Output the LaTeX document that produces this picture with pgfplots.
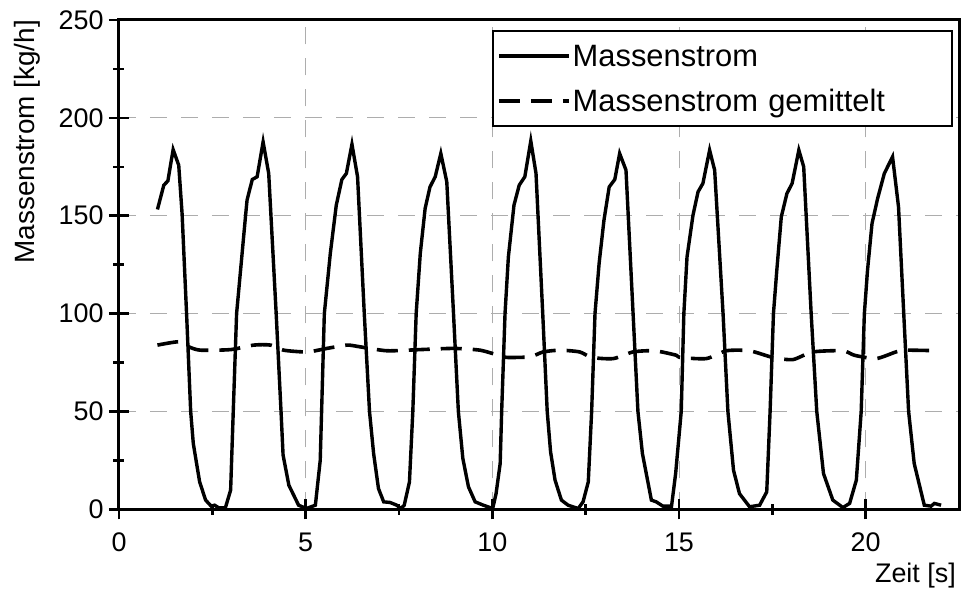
\documentclass[border=0pt]{standalone}
\usepackage{fontspec}
\setmainfont{Liberation Sans}
\usepackage{pgfplots}
\pgfplotsset{compat=1.18}

\pgfplotstableread{
t v
1.03 153.2
1.20 165.6
1.31 167.8
1.45 183.8
1.60 175.8
1.69 151
1.81 100
1.92 50
1.99 33.6
2.16 14
2.32 4.7
2.47 1.6
2.56 2.1
2.67 0.8
2.85 0.8
2.99 9.8
3.06 49.8
3.15 100
3.39 150
3.43 158
3.57 168.5
3.70 169.9
3.86 187.7
4.01 171.6
4.21 100
4.34 50
4.395 27.7
4.55 12.3
4.81 2.1
5.02 0.4
5.26 2.1
5.39 25
5.50 100
5.66 130.7
5.82 155.4
5.97 168.5
6.09 171.6
6.24 186.5
6.39 169.9
6.57 100
6.71 50
6.82 28.5
6.95 10.6
7.09 3.8
7.26 3.5
7.44 2.1
7.55 0.4
7.64 2.1
7.78 14
7.87 50
7.96 100
8.07 130.7
8.20 153.7
8.33 164.7
8.47 169.9
8.62 181.8
8.78 167.3
8.96 100
9.09 50
9.21 26
9.36 11.5
9.54 3.8
9.76 2.1
10.01 0.4
10.10 8
10.21 23.4
10.25 50
10.34 100
10.43 129
10.58 155.4
10.72 165.6
10.87 169.9
11.03 188.2
11.17 171.6
11.35 100
11.47 50
11.56 29.4
11.68 14.9
11.85 4.7
12.03 2.1
12.30 0.4
12.43 3.8
12.57 14
12.66 50
12.75 100
12.86 125.6
12.99 147.7
13.13 164.7
13.28 168.5
13.41 181.8
13.58 173.3
13.77 100
13.90 50
14.02 28.5
14.26 4.7
14.39 3.8
14.57 1.6
14.80 1.6
14.91 18.3
15.06 50
15.13 100
15.215 129
15.375 150.3
15.51 162.2
15.64 166.5
15.82 183.5
15.955 173.3
16.18 100
16.31 50
16.46 20
16.62 8
16.89 1.3
17.16 2.1
17.35 8.9
17.44 50
17.53 100
17.62 122.2
17.74 149.4
17.89 161.3
18.03 166.5
18.21 183.5
18.34 175
18.54 100
18.69 50
18.87 18.3
19.12 4.7
19.39 0.9
19.57 3
19.75 14.9
19.88 50
19.965 100
20.05 122.2
20.17 146
20.32 158.8
20.50 171.6
20.72 180.1
20.88 154.5
21.02 100
21.15 50
21.30 23.4
21.57 2.1
21.75 1.6
21.84 3
22.02 2.1
}\massenstrom

\pgfplotstableread{
t v
1.03 83.9
1.60 85.6
1.87 83
2.18 81.3
2.99 81.6
3.61 83.9
4.06 83.9
4.41 81.3
5.04 80.4
5.57 82.2
6.11 83.9
6.46 83
7.18 81
8.07 81.6
8.96 82.2
9.67 81.3
10.16 78.7
10.38 77.6
11.01 77.9
11.36 80.4
11.81 81.3
12.34 80.4
12.66 77.6
13.24 77
13.77 80.4
14.35 81
14.93 78.7
15.02 77.6
15.73 77
16.27 81
16.89 81
17.51 77.6
18.05 76.5
18.58 80.4
19.39 81
19.70 78.7
20.28 77
20.81 80.4
21.08 81.3
21.97 81
}\gemittelt

\begin{document}
\begin{tikzpicture}
\begin{axis}[
  scale only axis,
  width=840bp, height=489.3bp,
  xmin=0, xmax=22.5, ymin=0, ymax=250,
  xtick={0,5,10,15,20}, ytick={0,50,100,150,200,250},
  minor x tick num=1, minor y tick num=1,
  tick align=center, tick pos=left,
  major tick length=20bp, minor tick length=11bp,
  every tick/.style={black, line width=2.5bp},
  axis line style={line width=3bp},
  grid=major,
  major grid style={black!32, line width=1bp, dash pattern=on 17bp off 14bp},
  /pgf/number format/assume math mode=true,
  tick label style={font=\fontsize{27}{32}\selectfont},
  xticklabel style={yshift=-10bp},
  yticklabel style={xshift=-2bp},
  xlabel={Zeit [s]},
  xlabel style={at={(rel axis cs:1,0)}, anchor=base east, yshift=-73.5bp, xshift=-3bp, inner sep=0pt, font=\fontsize{27}{32}\selectfont},
  ylabel={Massenstrom [kg/h]},
  ylabel style={at={([xshift=-84bp]rel axis cs:0,1)}, anchor=base east, inner sep=0pt, font=\fontsize{28}{34}\selectfont},
  legend style={at={(0.9925,0.9796)}, anchor=north east, draw=black, line width=2bp,
    font=\fontsize{31}{37}\selectfont, inner xsep=4bp, inner ysep=6bp, row sep=7bp,
    nodes={inner xsep=2bp, inner ysep=3bp, text height=27bp, text depth=5bp},
    /tikz/every even column/.append style={text width=373bp}},
  legend cell align=left,
  legend image code/.code={\draw[#1] (0bp,0bp) -- (70bp,0bp);},
]
\addplot[black, line width=3.4bp] table[x=t, y=v] {\massenstrom};
\addlegendentry{Massenstrom}
\addplot[black, line width=3.6bp, dash pattern=on 21bp off 11bp, smooth, tension=0.4] table[x=t, y=v] {\gemittelt};
\addlegendentry{Massenstrom gemittelt}
\coordinate (bl) at (rel axis cs:0,0);
\coordinate (tr) at (rel axis cs:1,1);
\end{axis}
\pgfresetboundingbox
\path[use as bounding box] ([shift={(-119bp,-81.7bp)}]bl) rectangle ([shift={(2bp,20bp)}]tr);
\end{tikzpicture}
\end{document}
